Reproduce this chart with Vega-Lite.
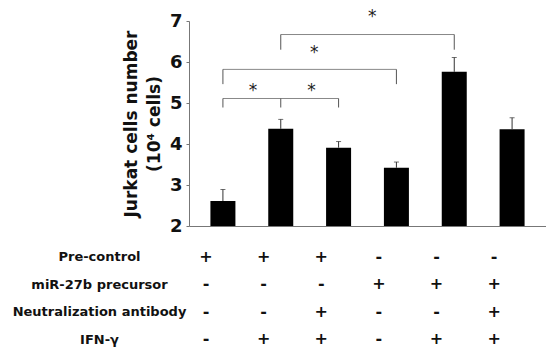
{
  "$schema": "https://vega.github.io/schema/vega-lite/v6.json",
  "padding": {"left": 12, "top": 8, "right": 0, "bottom": 0},
  "background": "white",
  "spacing": 8,
  "config": {"view": {"stroke": null}, "font": "DejaVu Sans"},
  "datasets": {
    "bars": [
      {"group": 1, "value": 2.61, "upper": 2.89},
      {"group": 2, "value": 4.37, "upper": 4.6},
      {"group": 3, "value": 3.91, "upper": 4.06},
      {"group": 4, "value": 3.42, "upper": 3.56},
      {"group": 5, "value": 5.76, "upper": 6.11},
      {"group": 6, "value": 4.36, "upper": 4.64}
    ],
    "hlines": [
      {"from": 1, "to": 3, "y": 5.11},
      {"from": 1, "to": 4, "y": 5.82},
      {"from": 2, "to": 5, "y": 6.67}
    ],
    "vlines": [
      {"x": 1, "bottom": 4.89, "top": 5.11},
      {"x": 2, "bottom": 4.89, "top": 5.11},
      {"x": 3, "bottom": 4.89, "top": 5.11},
      {"x": 1, "bottom": 5.46, "top": 5.82},
      {"x": 4, "bottom": 5.46, "top": 5.82},
      {"x": 2, "bottom": 6.3, "top": 6.67},
      {"x": 5, "bottom": 6.3, "top": 6.67}
    ],
    "stars": [
      {"x": 1.52, "y": 5.39},
      {"x": 2.53, "y": 5.39},
      {"x": 2.58, "y": 6.32},
      {"x": 3.58, "y": 7.19}
    ],
    "table": [
      {"row": "Pre-control", "col": 1, "sign": "+"},
      {"row": "Pre-control", "col": 2, "sign": "+"},
      {"row": "Pre-control", "col": 3, "sign": "+"},
      {"row": "Pre-control", "col": 4, "sign": "-"},
      {"row": "Pre-control", "col": 5, "sign": "-"},
      {"row": "Pre-control", "col": 6, "sign": "-"},
      {"row": "miR-27b precursor", "col": 1, "sign": "-"},
      {"row": "miR-27b precursor", "col": 2, "sign": "-"},
      {"row": "miR-27b precursor", "col": 3, "sign": "-"},
      {"row": "miR-27b precursor", "col": 4, "sign": "+"},
      {"row": "miR-27b precursor", "col": 5, "sign": "+"},
      {"row": "miR-27b precursor", "col": 6, "sign": "+"},
      {"row": "Neutralization antibody", "col": 1, "sign": "-"},
      {"row": "Neutralization antibody", "col": 2, "sign": "-"},
      {"row": "Neutralization antibody", "col": 3, "sign": "+"},
      {"row": "Neutralization antibody", "col": 4, "sign": "-"},
      {"row": "Neutralization antibody", "col": 5, "sign": "-"},
      {"row": "Neutralization antibody", "col": 6, "sign": "+"},
      {"row": "IFN-γ", "col": 1, "sign": "-"},
      {"row": "IFN-γ", "col": 2, "sign": "+"},
      {"row": "IFN-γ", "col": 3, "sign": "+"},
      {"row": "IFN-γ", "col": 4, "sign": "-"},
      {"row": "IFN-γ", "col": 5, "sign": "+"},
      {"row": "IFN-γ", "col": 6, "sign": "+"}
    ]
  },
  "vconcat": [
    {
      "width": 357,
      "height": 205,
      "layer": [
        {
          "data": {"name": "bars"},
          "mark": {"type": "bar", "orient": "vertical", "width": 25, "color": "black", "clip": true},
          "encoding": {
            "x": {"field": "group", "type": "quantitative",
                  "scale": {"domain": [0.5, 6.5], "nice": false, "zero": false},
                  "axis": {"title": null, "labels": false, "ticks": false, "grid": false, "domainColor": "#777", "domainWidth": 1}},
            "y": {"field": "value", "type": "quantitative",
                  "scale": {"domain": [2, 7], "nice": false, "zero": false},
                  "axis": {"values": [2, 3, 4, 5, 6, 7], "grid": false, "domainColor": "#777", "tickColor": "#777", "tickSize": 3,
                           "labelFont": "DejaVu Sans", "labelFontWeight": "bold", "labelFontSize": 18, "labelColor": "#111", "labelPadding": 4,
                           "title": ["Jurkat cells number", "(10⁴ cells)"], "titleFont": "DejaVu Sans", "titleFontWeight": "bold",
                           "titleFontSize": 17, "titleColor": "#111", "titlePadding": 6, "titleLineHeight": 23}},
            "y2": {"datum": 2}
          }
        },
        {
          "data": {"name": "bars"},
          "mark": {"type": "rule", "color": "#333", "strokeWidth": 1},
          "encoding": {
            "x": {"field": "group", "type": "quantitative"},
            "y": {"field": "value", "type": "quantitative"},
            "y2": {"field": "upper"}
          }
        },
        {
          "data": {"name": "bars"},
          "mark": {"type": "tick", "orient": "horizontal", "color": "#333", "size": 5, "thickness": 1},
          "encoding": {
            "x": {"field": "group", "type": "quantitative"},
            "y": {"field": "upper", "type": "quantitative"}
          }
        },
        {
          "data": {"name": "hlines"},
          "mark": {"type": "rule", "color": "#888", "strokeWidth": 1},
          "encoding": {
            "x": {"field": "from", "type": "quantitative"},
            "x2": {"field": "to"},
            "y": {"field": "y", "type": "quantitative"}
          }
        },
        {
          "data": {"name": "vlines"},
          "mark": {"type": "rule", "color": "#555", "strokeWidth": 1},
          "encoding": {
            "x": {"field": "x", "type": "quantitative"},
            "y": {"field": "bottom", "type": "quantitative"},
            "y2": {"field": "top"}
          }
        },
        {
          "data": {"name": "stars"},
          "mark": {"type": "text", "text": "*", "fontSize": 17, "color": "#222", "baseline": "middle", "dy": 4},
          "encoding": {
            "x": {"field": "x", "type": "quantitative"},
            "y": {"field": "y", "type": "quantitative"}
          }
        }
      ]
    },
    {
      "width": 357,
      "height": 110,
      "data": {"name": "table"},
      "mark": {"type": "text", "fontSize": 16, "fontWeight": "bold", "color": "#111", "font": "DejaVu Sans"},
      "encoding": {
        "x": {"field": "col", "type": "quantitative", "scale": {"domain": [0.705, 6.9], "nice": false, "zero": false}, "axis": null},
        "y": {"field": "row", "type": "ordinal",
              "sort": ["Pre-control", "miR-27b precursor", "Neutralization antibody", "IFN-γ"],
              "scale": {"paddingInner": 0, "paddingOuter": 0},
              "axis": {"title": null, "domain": false, "ticks": false, "labelAlign": "center", "labelPadding": 90,
                       "labelFont": "DejaVu Sans", "labelFontWeight": "bold", "labelFontSize": 13, "labelColor": "#111"}},
        "text": {"field": "sign"}
      }
    }
  ]
}
